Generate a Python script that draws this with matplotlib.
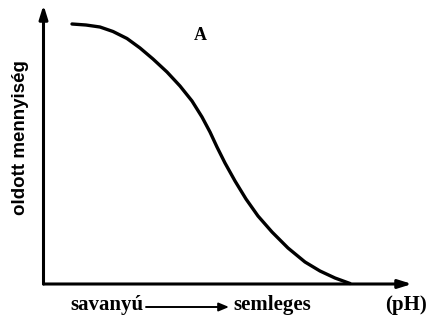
import numpy as np
import matplotlib
matplotlib.use("Agg")
import matplotlib.pyplot as plt

# ---- data (x: acidic -> neutral, y: dissolved amount) ----
ph_pos = [7.73, 11.53, 15.33, 18.86, 22.66, 26.19, 29.71, 33.51, 37.04, 40.30,
          43.01, 45.18, 47.08, 49.25, 51.97, 54.95, 58.21, 62.01, 66.35, 70.96,
          75.03, 79.10, 83.18]
amount = [93.19, 92.83, 92.11, 90.50, 87.99, 84.59, 80.65, 75.99, 70.97, 65.59,
          59.86, 54.48, 49.10, 43.37, 36.92, 30.47, 24.37, 18.64, 12.90, 7.89,
          4.66, 2.15, 0.18]

ylabel = "oldott mennyiség"
xlabel_left = "savanyú"
xlabel_right = "semleges"
unit_label = "(pH)"
curve_label = "A"

serif = ["Liberation Serif", "DejaVu Serif"]

fig = plt.figure(figsize=(4.27, 3.22), dpi=100)
ax = fig.add_axes([43.5/427, 38/322, (412-43.5)/427, (284-5)/322])
ax.set_xlim(0, 100); ax.set_ylim(0, 100)
for s in ax.spines.values():
    s.set_visible(False)
ax.set_xticks([]); ax.set_yticks([])

# axes drawn as arrows
arr = dict(arrowstyle="-|>,head_length=0.8,head_width=0.25", lw=2.2, color="black",
           shrinkA=0, shrinkB=0)
ax.annotate("", xy=(1, 0), xytext=(0, 0), xycoords="axes fraction", arrowprops=arr)
ax.annotate("", xy=(0, 1), xytext=(0, 0), xycoords="axes fraction", arrowprops=arr)

ax.plot(ph_pos, amount, color="black", lw=2.4, solid_capstyle="round",
        solid_joinstyle="round", clip_on=False)

ax.text(42.5, 89, curve_label, fontsize=13, fontweight="bold", family=serif,
        ha="center", va="center")

fig.text(21/427, 1 - 138/322, ylabel, rotation=90, fontsize=13.5, fontweight="bold",
         family=["Liberation Sans", "DejaVu Sans"], ha="center", va="center")

ty = 1 - 305/322
fig.text(107/427, ty, xlabel_left, fontsize=15, fontweight="bold", family=serif,
         ha="center", va="center")
fig.text(272/427, ty, xlabel_right, fontsize=15, fontweight="bold", family=serif,
         ha="center", va="center")
fig.text(406/427, ty, unit_label, fontsize=15, fontweight="bold", family=serif,
         ha="center", va="center")
fig.add_artist(matplotlib.patches.FancyArrowPatch(
    (146/427, 1 - 307/322), (229/427, 1 - 307/322), transform=fig.transFigure,
    arrowstyle="-|>,head_length=6,head_width=2.5", lw=1.4, color="black",
    shrinkA=0, shrinkB=0))

fig.savefig("out.png", dpi=100)
